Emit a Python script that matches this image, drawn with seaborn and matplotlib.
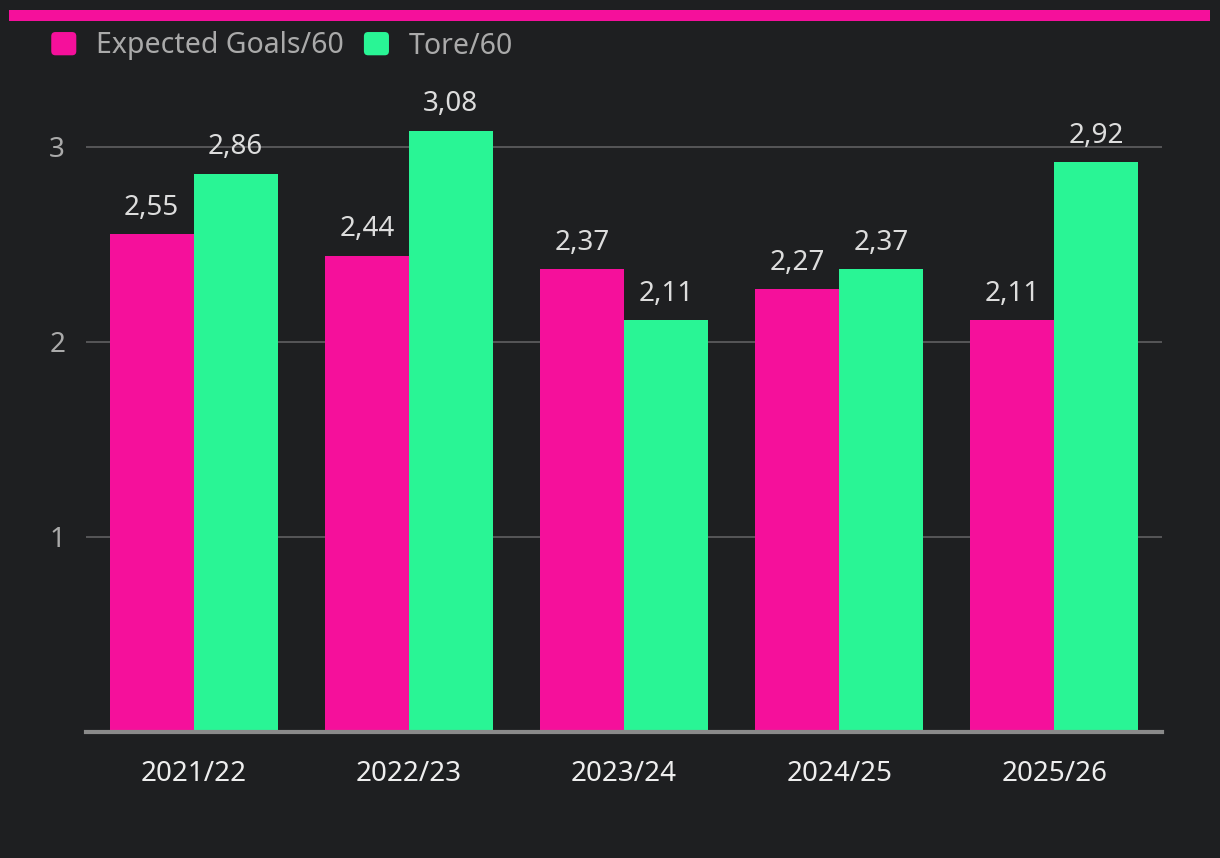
import pandas as pd
import matplotlib.pyplot as plt
import seaborn as sns
from matplotlib.patches import Patch, Rectangle, FancyBboxPatch
from matplotlib.legend_handler import HandlerPatch

# Daten
saisons = ['2021/22', '2022/23', '2023/24', '2024/25', '2025/26']
xg_60 = [2.55, 2.44, 2.37, 2.27, 2.11]
tore_60 = [2.86, 3.08, 2.11, 2.37, 2.92]
serien = ['Expected Goals/60', 'Tore/60']

df = pd.DataFrame({
    'Saison': saisons * 2,
    'Wert': xg_60 + tore_60,
    'Serie': [serien[0]] * len(saisons) + [serien[1]] * len(saisons),
})

bg = '#1e1f21'
pink = '#f5109b'
gruen = '#29f595'

sns.set_theme(style='dark')
plt.rcParams['font.family'] = ['Noto Sans', 'DejaVu Sans']

fig = plt.figure(figsize=(12.2, 8.58), dpi=100, facecolor=bg)
ax = fig.add_axes([86 / 1220, 1 - 732 / 858, 1076 / 1220, 644 / 858])
ax.set_facecolor(bg)

sns.barplot(data=df, x='Saison', y='Wert', hue='Serie', palette=[pink, gruen],
            width=0.78, saturation=1, ax=ax, legend=False, linewidth=0)

ax.set_xlim(-0.5, 4.5)
ax.set_ylim(0, 3.3)
ax.set_yticks([1, 2, 3])
ax.set_yticklabels(['1', '2', '3'])
ax.grid(axis='y', color='#5a5a5c', linewidth=1.3)
ax.grid(axis='x', visible=False)
ax.set_axisbelow(True)
for s in ['top', 'right', 'left']:
    ax.spines[s].set_visible(False)
ax.spines['bottom'].set_color('#8a8a8a')
ax.spines['bottom'].set_linewidth(3)
ax.tick_params(axis='y', colors='#aaaaaa', labelsize=20, length=0, pad=15)
ax.tick_params(axis='x', colors='#eeeeee', labelsize=20, length=0, pad=20)
ax.set_xlabel('')
ax.set_ylabel('')

# Werte über den Balken
for cont in ax.containers:
    ax.bar_label(cont, labels=[f'{v:.2f}'.replace('.', ',') for v in cont.datavalues],
                 padding=9, color='#dddddd', fontsize=20)


# abgerundete Legendenkästchen
def runde_box(legend, orig_handle, xdescent, ydescent, width, height, fontsize):
    return FancyBboxPatch((-xdescent, -ydescent), width, height,
                          boxstyle='round,pad=0,rounding_size=3')


handles = [Patch(facecolor=pink, edgecolor='none', label=serien[0]),
           Patch(facecolor=gruen, edgecolor='none', label=serien[1])]
leg = fig.legend(handles=handles, loc='center left', bbox_to_anchor=(0.021, 1 - 46 / 858),
                 ncol=2, frameon=False, fontsize=20.5, handlelength=0.88, handleheight=0.88,
                 handletextpad=0.7, columnspacing=0.7, labelcolor='#aaaaaa',
                 handler_map={Patch: HandlerPatch(patch_func=runde_box)})

# Balken oben
fig.patches.append(Rectangle((9 / 1220, 1 - 21 / 858), 1201 / 1220, 11 / 858,
                             transform=fig.transFigure, facecolor=pink, edgecolor='none'))

fig.savefig('out.png', dpi=100, facecolor=bg)
